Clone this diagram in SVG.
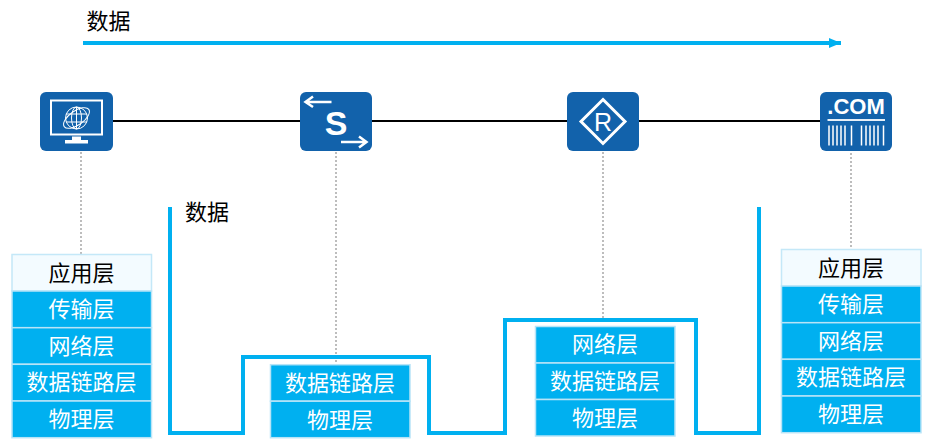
<svg xmlns="http://www.w3.org/2000/svg" width="931" height="445" viewBox="0 0 931 445">
<style>
text{font-family:"Noto Sans CJK SC","Liberation Sans",sans-serif;font-size:22px;text-anchor:middle}
.d{fill:#00b0f0;stroke:#b8e4f7;stroke-width:1.5}
.a{fill:#f3fbff;stroke:#c4e8f8;stroke-width:1.5}
.w{fill:#fff}
.k{fill:#000}
.ic{fill:#1262ab}
.dot{fill:none;stroke:#bdbdbd;stroke-width:2;stroke-dasharray:2 2}
.wl{fill:none;stroke:#fff;stroke-linecap:butt}
.lat{font-family:"Liberation Sans",sans-serif}
</style>
<defs>
<marker id="ah" markerUnits="userSpaceOnUse" markerWidth="12" markerHeight="12" refX="12" refY="6" orient="auto"><path d="M0 1L12 6L0 11z" fill="#00b0f0"/></marker>
</defs>
<g id="connectors">
<path d="M113 121H300M372 121H567M639 121H820" fill="none" stroke="#000" stroke-width="2"/>
<path class="dot" d="M81 152V254M336 152V372M603 152V320M851 153V249"/>
<path d="M83 43H841" fill="none" stroke="#00b0f0" stroke-width="4" marker-end="url(#ah)"/>
<path d="M170 207V433H243V357H429V433H505V320H696V433H759V207" fill="none" stroke="#00b0f0" stroke-width="4"/>
</g>
<text x="108.500" y="29" class="k">数据</text>
<text x="207" y="220" class="k">数据</text>
<g id="host">
<rect class="ic" x="40" y="92" width="73" height="59" rx="6"/>
<rect class="wl" x="51" y="100.500" width="51" height="34" stroke-width="2"/>
<path class="w" d="M72 136.500H81V140H88V143.500H65V140H72z"/>
<g class="wl" stroke-width="1">
<circle cx="76.500" cy="118" r="11"/>
<ellipse cx="76.500" cy="118" rx="5" ry="11"/>
<path d="M66 114H87M66 122H87M76.500 107V129"/>
<ellipse cx="76.500" cy="118" rx="15" ry="7" transform="rotate(-35 76.500 118)"/>
</g>
</g>
<g id="switch">
<rect class="ic" x="300" y="92" width="72" height="59" rx="6"/>
<path class="wl" stroke-width="2.500" d="M331.500 102H306M313 96.500L305.500 102L313 107M341 142H366M359 136.500L366.500 142L359 147.500"/>
<text class="w lat" x="336" y="135" style="font-size:34px;font-weight:bold">S</text>
</g>
<g id="router">
<rect class="ic" x="567" y="92" width="72" height="59" rx="6"/>
<path class="wl" stroke-width="3" d="M603 99.500L625 121.500L603 143.500L581 121.500z"/>
<text class="w lat" x="603" y="131" style="font-size:25px">R</text>
</g>
<g id="server">
<rect class="ic" x="820" y="92" width="72" height="59" rx="6"/>
<text class="w lat" x="856" y="113.500" style="font-size:22px;font-weight:bold">.COM</text>
<path class="wl" stroke-width="2" stroke-opacity=".9" d="M827.500 120H885"/>
<path class="wl" stroke-width="1.500" d="M829 125.500V145.500M833 125.500V145.500M837 125.500V145.500M841 125.500V145.500M845 125.500V145.500M851.500 125.500V145.500M861.500 125.500V145.500M866 125.500V145.500M870 125.500V145.500M874 125.500V145.500M878 125.500V145.500M883.500 125.500V145.500"/>
</g>
<g id="stack-host">
<rect class="a" x="12" y="254.500" width="139.500" height="36.500"/><text class="k" x="81.500" y="281">应用层</text>
<rect class="d" x="12" y="291" width="139.500" height="36.700"/><text class="w" x="81.500" y="317">传输层</text>
<rect class="d" x="12" y="327.700" width="139.500" height="36.600"/><text class="w" x="81.500" y="354">网络层</text>
<rect class="d" x="12" y="364.300" width="139.500" height="36.700"/><text class="w" x="81.500" y="390">数据链路层</text>
<rect class="d" x="12" y="401" width="139.500" height="36.700"/><text class="w" x="81.500" y="427">物理层</text>
</g>
<g id="stack-switch">
<rect class="d" x="270.500" y="364.700" width="139.500" height="36.500"/><text class="w" x="340" y="391">数据链路层</text>
<rect class="d" x="270.500" y="401.200" width="139.500" height="36.500"/><text class="w" x="340" y="428">物理层</text>
</g>
<g id="stack-router">
<rect class="d" x="535.500" y="326.500" width="139.500" height="36.500"/><text class="w" x="605" y="352">网络层</text>
<rect class="d" x="535.500" y="363" width="139.500" height="36.500"/><text class="w" x="605" y="389">数据链路层</text>
<rect class="d" x="535.500" y="399.500" width="139.500" height="36.500"/><text class="w" x="605" y="426">物理层</text>
</g>
<g id="stack-server">
<rect class="a" x="781.500" y="249.500" width="139.500" height="36.500"/><text class="k" x="851" y="276">应用层</text>
<rect class="d" x="781.500" y="286" width="139.500" height="36.700"/><text class="w" x="851" y="312">传输层</text>
<rect class="d" x="781.500" y="322.700" width="139.500" height="36.600"/><text class="w" x="851" y="349">网络层</text>
<rect class="d" x="781.500" y="359.300" width="139.500" height="36.700"/><text class="w" x="851" y="385">数据链路层</text>
<rect class="d" x="781.500" y="396" width="139.500" height="36.700"/><text class="w" x="851" y="422">物理层</text>
</g>
</svg>
